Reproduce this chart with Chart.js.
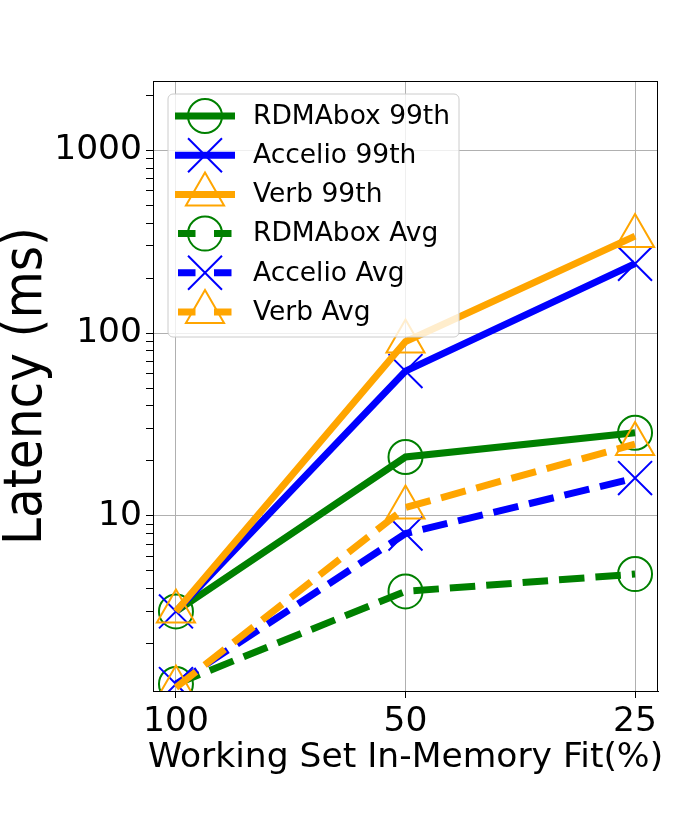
<!DOCTYPE html>
<html>
<head>
<meta charset="utf-8">
<script src="https://cdn.jsdelivr.net/npm/chart.js@4.4.1/dist/chart.umd.min.js"></script>
<style>
  html, body { margin: 0; padding: 0; background: #fff; }
  #wrap { width: 700px; height: 813px; }
</style>
</head>
<body>
<div id="wrap"><canvas id="latencyChart" width="700" height="813"></canvas></div>
<script>
// values
const xLabels = ['100', '50', '25'];
const rdmabox99 = [3.0, 21, 28.5];
const accelio99 = [3.0, 62, 240];
const verb99 = [3.0, 90, 340];
const rdmaboxAvg = [1.2, 3.86, 4.8];
const accelioAvg = [1.2, 8.0, 16.1];
const verbAvg = [1.15, 11.1, 24.7];
const yMajor = [10, 100, 1000];
const xTitle = 'Working Set In-Memory Fit(%)';

const GREEN = '#008000', BLUE = '#0000ff', ORANGE = '#ffa500';

function pts(vals) {
    return vals.map((v, i) => ({ x: i, y: v }));
}

function series(label, vals, color, style, radius, dashed, idx) {
    return {
        label: label,
        data: pts(vals),
        borderColor: color,
        borderWidth: 7,
        borderDash: dashed ? [25.5, 11] : [],
        pointStyle: style,
        pointRadius: radius,
        pointBorderWidth: 2,
        pointBorderColor: color,
        pointBackgroundColor: 'rgba(0,0,0,0)',
        tension: 0,
        fill: false,
        order: 10 - idx
    };
}

const datasets = [
    series('RDMAbox 99th', rdmabox99, GREEN, 'circle', 17, false, 0),
    series('Accelio 99th', accelio99, BLUE, 'crossRot', 24, false, 1),
    series('Verb 99th', verb99, ORANGE, 'triangle', 22, false, 2),
    series('RDMAbox Avg', rdmaboxAvg, GREEN, 'circle', 17, true, 3),
    series('Accelio Avg', accelioAvg, BLUE, 'crossRot', 24, true, 4),
    series('Verb Avg', verbAvg, ORANGE, 'triangle', 22, true, 5)
];

// black box around the plot area + x axis title (wider than the plot, so not the scale title)
const framePlugin = {
    id: 'frame',
    afterDraw(chart) {
        const a = chart.chartArea, ctx = chart.ctx;
        ctx.save();
        ctx.strokeStyle = '#000';
        ctx.lineWidth = 1;
        ctx.strokeRect(a.left + 0.5, a.top + 0.5, a.right - a.left - 1, a.bottom - a.top);
        ctx.fillStyle = '#000';
        ctx.font = '34.5px "DejaVu Sans"';
        ctx.textAlign = 'center';
        ctx.textBaseline = 'alphabetic';
        ctx.fillText(xTitle, (a.left + a.right) / 2, a.bottom + 76);
        ctx.restore();
    }
};

// matplotlib style legend in the upper left of the plot
const legendPlugin = {
    id: 'innerLegend',
    afterDraw(chart) {
        const a = chart.chartArea, ctx = chart.ctx;
        const x0 = a.left + 15, y0 = a.top + 13, w = 291, h = 243;
        ctx.save();
        ctx.beginPath();
        ctx.roundRect(x0, y0, w, h, 5);
        ctx.fillStyle = 'rgba(255,255,255,0.8)';
        ctx.fill();
        ctx.strokeStyle = '#cccccc';
        ctx.lineWidth = 1;
        ctx.stroke();
        chart.data.datasets.forEach((ds, i) => {
            const y = y0 + 22 + i * 39.2;
            const dashed = ds.borderDash.length > 0;
            ctx.strokeStyle = ds.borderColor;
            ctx.lineWidth = 7;
            ctx.beginPath();
            if (dashed) {
                ctx.setLineDash([17.5, 18.5]);
                ctx.moveTo(x0 + 10, y);
                ctx.lineTo(x0 + 64, y);
            } else {
                ctx.setLineDash([]);
                ctx.moveTo(x0 + 7, y);
                ctx.lineTo(x0 + 67, y);
            }
            ctx.stroke();
            ctx.setLineDash([]);
            ctx.lineWidth = 2;
            ctx.fillStyle = 'rgba(0,0,0,0)';
            Chart.helpers.drawPoint(ctx, {
                pointStyle: ds.pointStyle,
                radius: ds.pointRadius,
                rotation: 0,
                borderWidth: 2
            }, x0 + 37, y);
            ctx.fillStyle = '#000';
            ctx.font = '26.5px "DejaVu Sans"';
            ctx.textBaseline = 'middle';
            ctx.textAlign = 'left';
            ctx.fillText(ds.label, x0 + 85, y + 1);
        });
        ctx.restore();
    }
};

Chart.defaults.font.family = '"DejaVu Sans", sans-serif';
Chart.defaults.color = '#000';

const ctx = document.getElementById('latencyChart').getContext('2d');
new Chart(ctx, {
    type: 'line',
    data: { datasets: datasets },
    plugins: [framePlugin, legendPlugin],
    options: {
        responsive: false,
        animation: false,
        layout: { padding: { top: 81, right: 42, left: 0, bottom: 0 } },
        plugins: {
            legend: { display: false },
            tooltip: { enabled: false }
        },
        scales: {
            x: {
                type: 'linear',
                min: -0.1,
                max: 2.1,
                afterBuildTicks: (scale) => {
                    scale.ticks = xLabels.map((l, i) => ({ value: i }));
                },
                afterFit: (scale) => { scale.height = 122; },
                ticks: {
                    autoSkip: false,
                    maxRotation: 0,
                    padding: 3,
                    font: { size: 34.5 },
                    callback: (v) => xLabels[v]
                },
                grid: { color: '#b0b0b0', tickColor: '#000', tickLength: 7, lineWidth: 1 },
                border: { color: '#000', width: 1 },
                title: { display: false }
            },
            y: {
                type: 'logarithmic',
                min: 1.1,
                max: 2400,
                afterBuildTicks: (scale) => {
                    const t = [];
                    for (let e = 0; e <= 3; e++) {
                        for (let m = 1; m <= 9; m++) {
                            const v = m * Math.pow(10, e);
                            if (v > 1.1 && v < 2400) t.push({ value: v });
                        }
                    }
                    scale.ticks = t;
                },
                afterFit: (scale) => { scale.width = 153; },
                ticks: {
                    autoSkip: false,
                    padding: 4,
                    font: { size: 34.5 },
                    callback: (v) => yMajor.includes(v) ? String(v) : ''
                },
                grid: {
                    color: (c) => (c.tick && yMajor.includes(c.tick.value)) ? '#b0b0b0' : 'rgba(0,0,0,0)',
                    tickColor: '#000',
                    tickLength: 7,
                    lineWidth: 1
                },
                border: { color: '#000', width: 1 },
                title: {
                    display: true,
                    text: 'Latency (ms)',
                    font: { size: 54, family: '"DejaVu Sans Condensed", "DejaVu Sans", sans-serif', lineHeight: 1 },
                    padding: { top: 0, bottom: 0 }
                }
            }
        }
    }
});
</script>
</body>
</html>
